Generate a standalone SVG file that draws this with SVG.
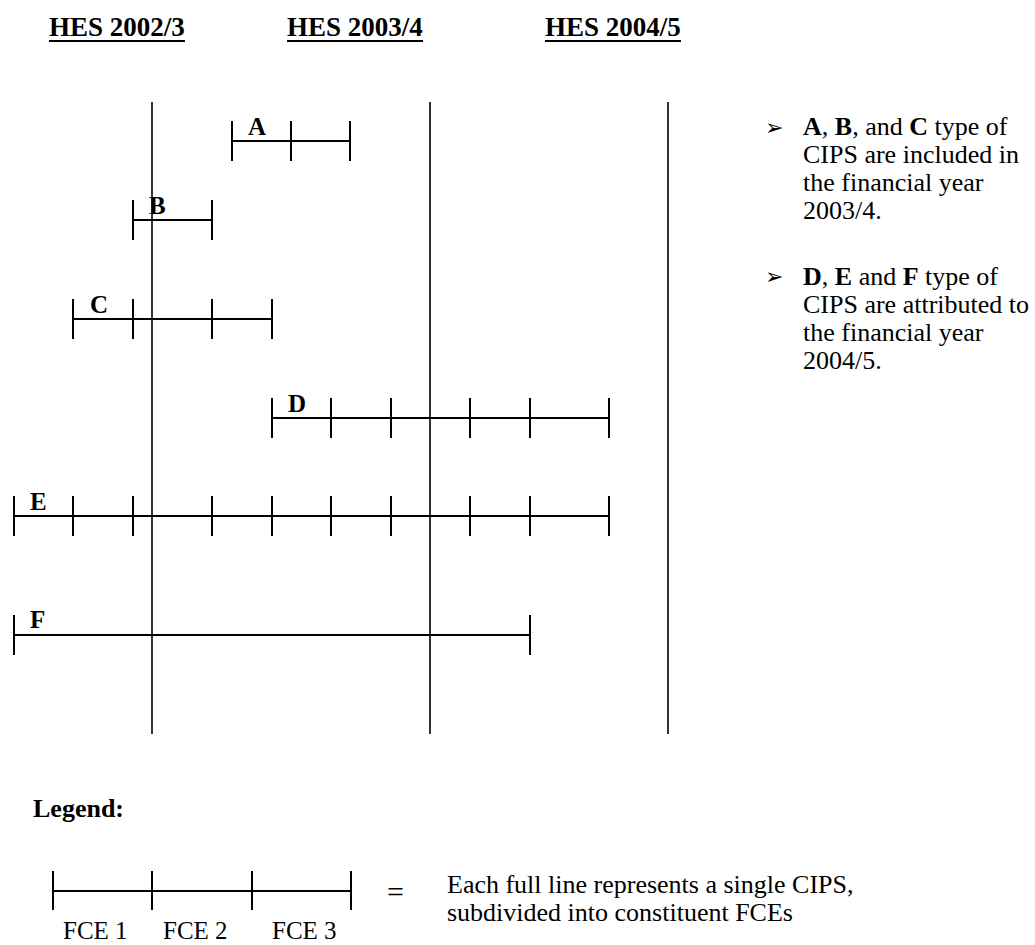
<svg xmlns="http://www.w3.org/2000/svg" width="1035" height="945" viewBox="0 0 1035 945">
<style>
text{font-family:"Liberation Serif","Times New Roman",serif;fill:#000}
.hd{font-size:27px;font-weight:bold}
.lb{font-size:25px;font-weight:bold}
.tx{font-size:26px}
.b{font-weight:bold}
.bul{font-family:"DejaVu Sans",sans-serif;font-size:22px}
.ln{stroke:#000;stroke-width:2;fill:none}
.vl{stroke:#000;stroke-width:1.6;fill:none}
.ul{stroke:#000;stroke-width:2.2}
</style>
<rect width="1035" height="945" fill="#fff"/>
<g id="headers">
<text class="hd" x="49" y="36">HES 2002/3</text>
<line class="ul" x1="49" y1="41" x2="185" y2="41"/>
<text class="hd" x="287" y="36">HES 2003/4</text>
<line class="ul" x1="287" y1="41" x2="423" y2="41"/>
<text class="hd" x="545" y="36">HES 2004/5</text>
<line class="ul" x1="545" y1="41" x2="681" y2="41"/>
</g>
<g id="year-boundaries">
<line class="vl" x1="152" y1="102" x2="152" y2="734"/>
<line class="vl" x1="430" y1="102" x2="430" y2="734"/>
<line class="vl" x1="668" y1="102" x2="668" y2="734"/>
</g>
<g id="row-A">
<path class="ln" d="M232 141H350M232 121V161M291 121V161M350 121V161"/>
<text class="lb" x="248" y="135">A</text>
</g>
<g id="row-B">
<path class="ln" d="M133 220H212M133 200V240M212 200V240"/>
<text class="lb" x="149" y="214">B</text>
</g>
<g id="row-C">
<path class="ln" d="M73 319H272M73 299V339M133 299V339M212 299V339M272 299V339"/>
<text class="lb" x="90" y="313">C</text>
</g>
<g id="row-D">
<path class="ln" d="M272 418H609M272 398V438M331 398V438M391 398V438M470 398V438M530 398V438M609 398V438"/>
<text class="lb" x="288" y="412">D</text>
</g>
<g id="row-E">
<path class="ln" d="M14 516H609M14 496V536M73 496V536M133 496V536M212 496V536M272 496V536M331 496V536M391 496V536M470 496V536M530 496V536M609 496V536"/>
<text class="lb" x="30" y="510">E</text>
</g>
<g id="row-F">
<path class="ln" d="M14 635H530M14 615V655M530 615V655"/>
<text class="lb" x="30" y="628">F</text>
</g>
<g id="notes">
<text class="bul" x="765" y="135">➢</text>
<text class="tx" x="803" y="135"><tspan class="b">A</tspan>, <tspan class="b">B</tspan>, and <tspan class="b">C</tspan> type of</text>
<text class="tx" x="803" y="163">CIPS are included in</text>
<text class="tx" x="803" y="191">the financial year</text>
<text class="tx" x="803" y="219">2003/4.</text>
<text class="bul" x="765" y="284">➢</text>
<text class="tx" x="803" y="285"><tspan class="b">D</tspan>, <tspan class="b">E</tspan> and <tspan class="b">F</tspan> type of</text>
<text class="tx" x="803" y="313">CIPS are attributed to</text>
<text class="tx" x="803" y="341">the financial year</text>
<text class="tx" x="803" y="369">2004/5.</text>
</g>
<g id="legend">
<text class="tx b" x="33" y="817">Legend:</text>
<path class="ln" d="M53 891H351M53 871V910M152 871V910M252 871V910M351 871V910"/>
<text class="tx" x="63" y="939" style="font-size:25px">FCE 1</text>
<text class="tx" x="163" y="939" style="font-size:25px">FCE 2</text>
<text class="tx" x="272" y="939" style="font-size:25px">FCE 3</text>
<text class="tx" x="387" y="902" style="font-size:30px">=</text>
<text class="tx" x="447" y="893">Each full line represents a single CIPS,</text>
<text class="tx" x="447" y="921">subdivided into constituent FCEs</text>
</g>
</svg>
